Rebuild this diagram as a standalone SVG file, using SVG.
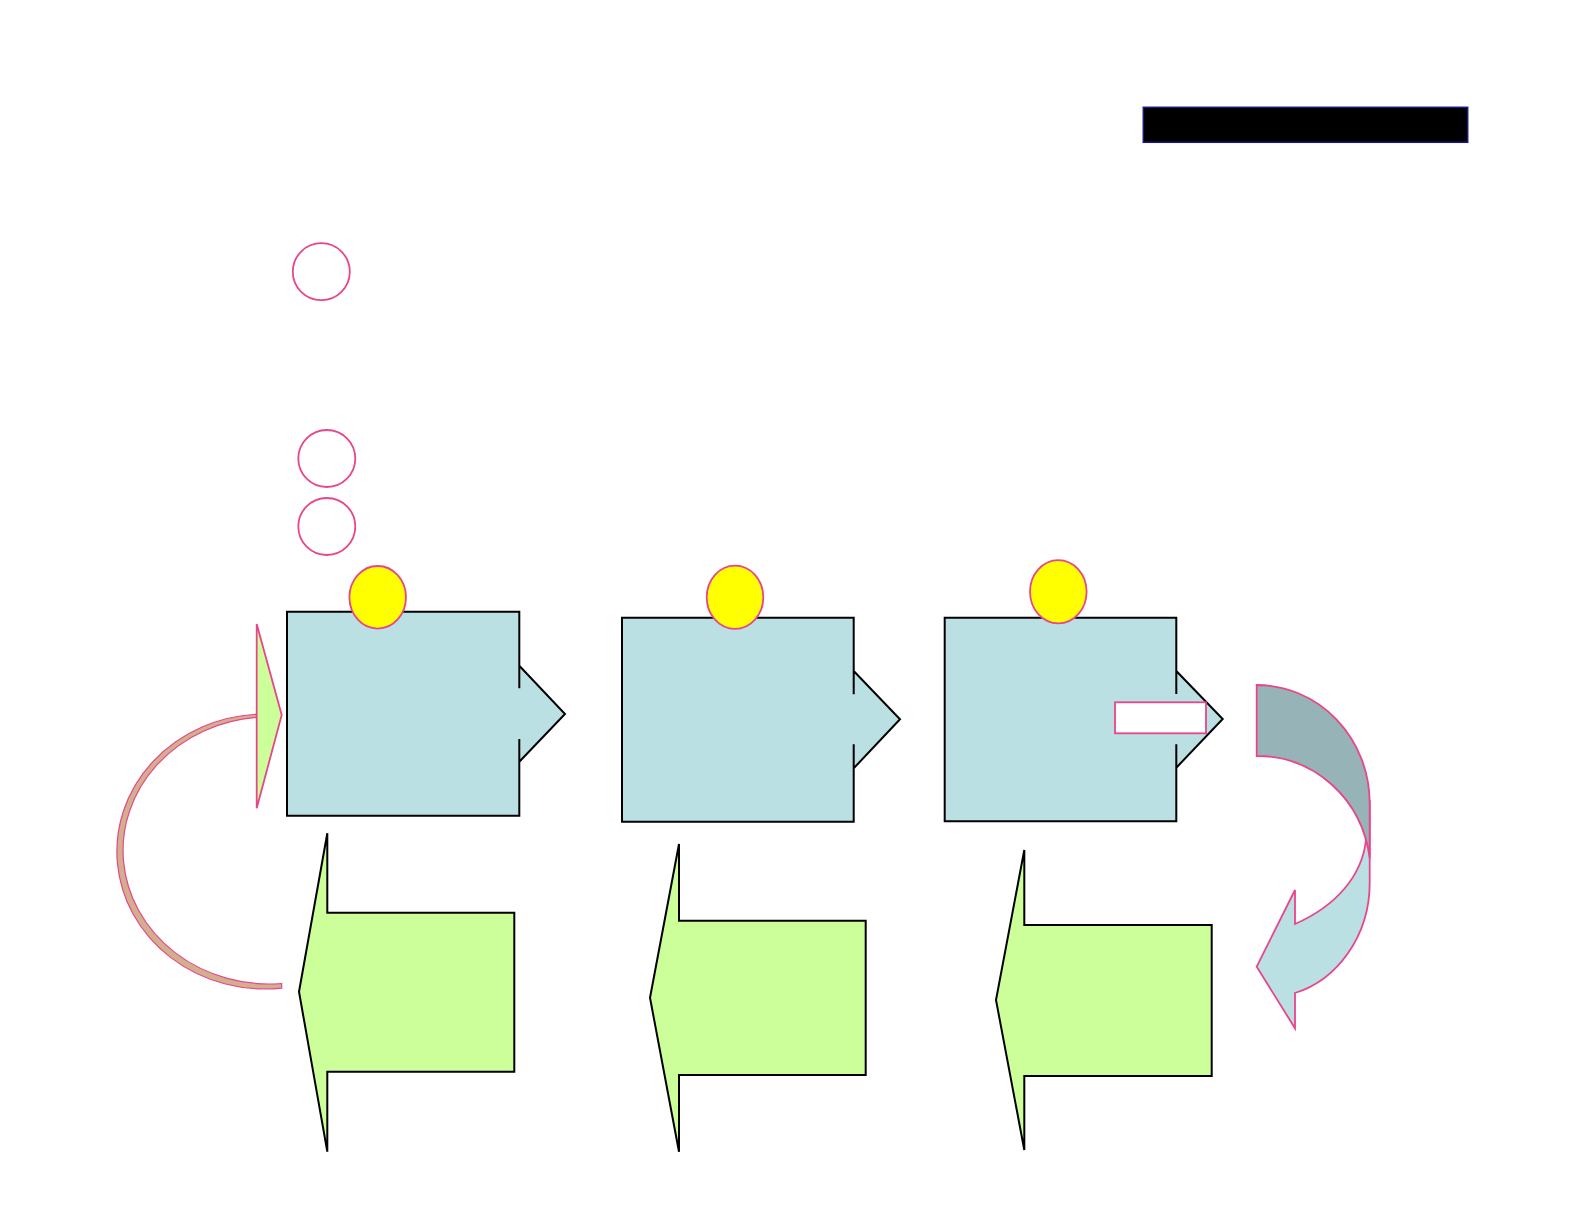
<svg xmlns="http://www.w3.org/2000/svg" width="1584" height="1224" viewBox="0 0 1584 1224">
<style>
.boxfill{fill:#bae0e3;stroke:none}
.boxline{fill:none;stroke:#000;stroke-width:2;stroke-linejoin:miter}
.green{fill:#ccff99;stroke:#000;stroke-width:2;stroke-linejoin:miter}
.dot{fill:#ffff00;stroke:#e8458b;stroke-width:1.8}
.ring{fill:#fff;stroke:#e8458b;stroke-width:1.8}
.pink{stroke:#e8458b;stroke-width:1.8;stroke-linejoin:miter}
</style>
<rect width="1584" height="1224" fill="#fff"/>

<g id="title-bar">
<rect x="1143.3" y="107.3" width="324.4" height="35" fill="#000" stroke="#1a1a80" stroke-width="1.5"/>
</g>

<g id="ring-1"><circle cx="321.3" cy="271.7" r="28.5" class="ring"/></g>
<g id="ring-2"><circle cx="326.8" cy="458.5" r="28.5" class="ring"/></g>
<g id="ring-3"><circle cx="326.8" cy="526.5" r="28.5" class="ring"/></g>

<g id="box-1">
<path class="boxfill" d="M287,611.7 H519.3 V665.7 L565,714 L519.3,761.7 V815.7 H287 Z"/>
<path class="boxline" d="M519.3,688.3 V611.7 H287 V815.7 H519.3 V739 M519.3,665.7 L565,714 L519.3,761.7"/>
<ellipse class="dot" cx="377.7" cy="597.3" rx="28.3" ry="31.3"/>
</g>

<g id="box-2">
<path class="boxfill" d="M622,617.7 H853.7 V671 L900,719.3 L853.7,768.3 V821.7 H622 Z"/>
<path class="boxline" d="M853.7,694.3 V617.7 H622 V821.7 H853.7 V744.3 M853.7,671 L900,719.3 L853.7,768.3"/>
<ellipse class="dot" cx="735" cy="597.3" rx="28.3" ry="31.6"/>
</g>

<g id="box-3">
<path class="boxfill" d="M944.7,617.7 H1176.3 V671 L1222.7,719 L1176.3,767.7 V821.3 H944.7 Z"/>
<path class="boxline" d="M1176.3,694 V617.7 H944.7 V821.3 H1176.3 V744.3 M1176.3,671 L1222.7,719 L1176.3,767.7"/>
<ellipse class="dot" cx="1058.3" cy="591.7" rx="28.3" ry="31.6"/>
<rect x="1115" y="702.3" width="91" height="31" fill="#fff" class="pink"/>
</g>

<g id="arrow-left-1">
<path class="green" d="M327.3,833.3 V912.7 H514.3 V1071.7 H327.3 V1151.7 L299,991.7 Z"/>
</g>
<g id="arrow-left-2">
<path class="green" d="M679,844 V920.7 H865.7 V1075 H679 V1151.7 L650,997.7 Z"/>
</g>
<g id="arrow-left-3">
<path class="green" d="M1024.3,850 V925 H1211.7 V1076 H1024.3 V1150 L996,1000 Z"/>
</g>

<g id="connectors">
<g id="loop-back">
<path d="M256.7,714.2 A148,137.5 0 1 0 281.7,988.1 L281.7,983.5 A145.6,133.1 0 1 1 256.7,717.4 Z" fill="#d2b08e" stroke="#e8458b" stroke-width="1.2"/>
<path d="M256.7,624 L281.7,715 L256.7,808.3 Z" fill="#ccff99" class="pink"/>
</g>
<g id="turn-down">
<path d="M1369.7,800 L1369.7,883 C1369.7,936 1337,980 1295,993 L1295,1028.3 L1256.7,966.7 L1295,890 L1295,924 C1336,906 1362,876 1366,840 Z" fill="#bae0e3" class="pink"/>
<path d="M1256.7,685 A113,118 0 0 1 1369.7,803 L1369.7,858 C1362,800 1316,756 1256.7,756 Z" fill="#96b3b7" class="pink"/>
</g>
</g>
</svg>
